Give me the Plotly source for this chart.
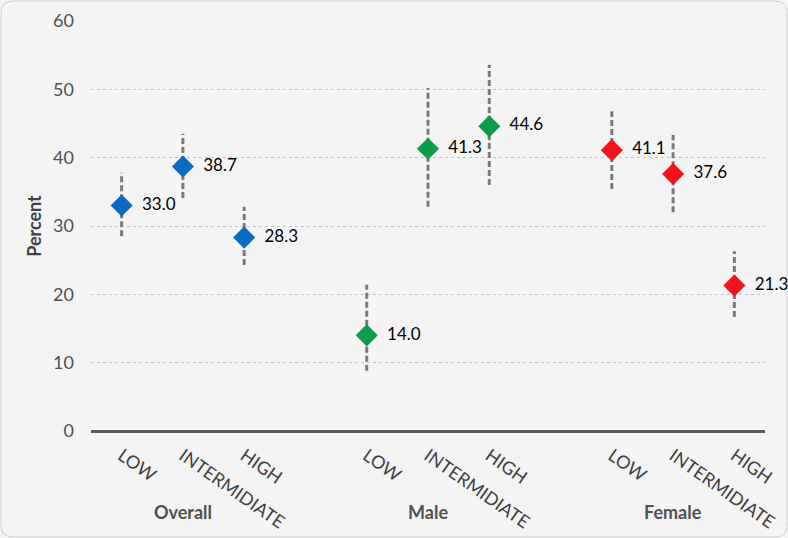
import plotly.graph_objects as go

groups = ["Overall", "Male", "Female"]
levels = ["LOW", "INTERMIDIATE", "HIGH"]
colors = ["#0b6bc3", "#0f9b4c", "#f3131f"]

values = {
    "Overall": [33.0, 38.7, 28.3],
    "Male": [14.0, 41.3, 44.6],
    "Female": [41.1, 37.6, 21.3],
}
lower = {
    "Overall": [28.5, 34.1, 24.3],
    "Male": [8.8, 32.8, 36.0],
    "Female": [35.4, 32.0, 16.7],
}
upper = {
    "Overall": [37.8, 43.5, 32.8],
    "Male": [21.4, 50.2, 53.6],
    "Female": [46.8, 43.3, 26.3],
}
y_ticks = [0, 10, 20, 30, 40, 50, 60]

FONT = "Lato, Calibri, 'Open Sans', sans-serif"
W, H = 788, 538
ML, MR, MT, MB = 91, 23, 21, 107

fig = go.Figure()
tickvals, ticktext = [], []
for gi, g in enumerate(groups):
    xs = [gi * (len(levels) + 1) + li for li in range(len(levels))]
    tickvals += xs
    ticktext += levels
    # dashed error bars
    for x, lo, hi in zip(xs, lower[g], upper[g]):
        fig.add_trace(go.Scatter(
            x=[x, x], y=[lo, hi], mode="lines",
            line=dict(color="#7a7a7a", width=3, dash="6px,3px"),
            showlegend=False, hoverinfo="skip", cliponaxis=False))
    fig.add_trace(go.Scatter(
        x=xs, y=values[g], mode="markers+text",
        marker=dict(symbol="diamond", size=17, color=colors[gi], line=dict(width=0)),
        text=["  " + f"{v:.1f}" for v in values[g]],
        textposition="middle right",
        textfont=dict(family=FONT, size=17, color="#000000"),
        showlegend=False, name=g, cliponaxis=False))
    fig.add_annotation(
        x=xs[1], y=-0.198, xref="x", yref="paper",
        text="<b>" + g + "</b>", showarrow=False,
        font=dict(family=FONT, size=18, color="#505050"),
        xanchor="center", yanchor="middle")

# rounded outer border
pw, ph = W - ML - MR, H - MT - MB
def px(xp):
    return (xp - ML) / pw
def py(yp):
    return (H - MB - yp) / ph
r = 12
x0, x1, y0, y1 = 1, W - 1, 1, H - 1
path = (f"M {px(x0 + r)} {py(y0)} L {px(x1 - r)} {py(y0)} Q {px(x1)} {py(y0)} {px(x1)} {py(y0 + r)} "
        f"L {px(x1)} {py(y1 - r)} Q {px(x1)} {py(y1)} {px(x1 - r)} {py(y1)} "
        f"L {px(x0 + r)} {py(y1)} Q {px(x0)} {py(y1)} {px(x0)} {py(y1 - r)} "
        f"L {px(x0)} {py(y0 + r)} Q {px(x0)} {py(y0)} {px(x0 + r)} {py(y0)} Z")
fig.add_shape(type="path", path=path, xref="paper", yref="paper",
              line=dict(color="#d0d0d0", width=1), layer="below")

fig.update_layout(
    width=W, height=H,
    margin=dict(l=ML, r=MR, t=MT, b=MB, autoexpand=False),
    paper_bgcolor="#f4f4f4", plot_bgcolor="#f4f4f4",
    font=dict(family=FONT),
    xaxis=dict(
        range=[-0.5, len(groups) * (len(levels) + 1) - 1 - 0.5],
        tickvals=tickvals, ticktext=ticktext, tickangle=35,
        tickfont=dict(family=FONT, size=18, color="#404040"),
        showgrid=False, zeroline=False, showline=False,
        ticks="", ticklabelstandoff=10, automargin=False,
    ),
    yaxis=dict(
        range=[0, 60], tickvals=y_ticks, showgrid=True,
        gridcolor="#c4c4c4", griddash="dot", gridwidth=1,
        zeroline=True, zerolinecolor="#595959", zerolinewidth=3,
        tickfont=dict(family=FONT, size=18, color="#505050"),
        ticklabelstandoff=16, automargin=False,
        title=dict(text="<b>Percent</b>", font=dict(family=FONT, size=18, color="#404040"), standoff=6),
    ),
)

fig.write_html("out.html", config={"displayModeBar": False},
               post_script="document.body.style.margin='0';document.body.style.overflow='hidden';")
